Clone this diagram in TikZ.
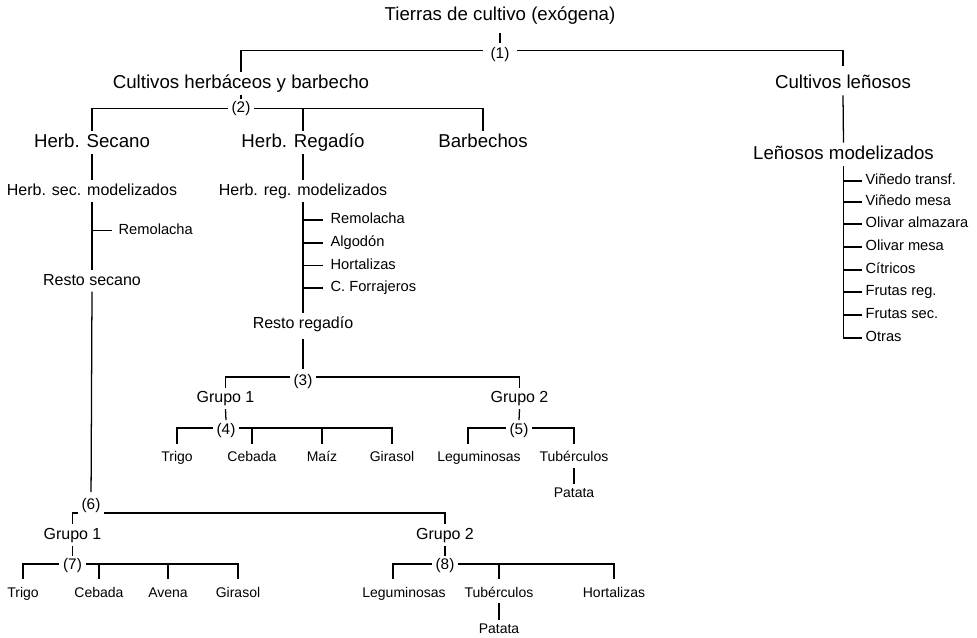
\documentclass[tikz,border=0pt]{standalone}
\usepackage{fontspec}
\setmainfont{Liberation Sans}
\begin{document}
\begin{tikzpicture}[x=0.75pt,y=-0.75pt,line width=0.95pt,
  every node/.style={inner sep=0pt},
  big/.style={font=\fontsize{14}{16}\selectfont,text height=10pt,text depth=2.8pt,inner ysep=2pt},
  mid/.style={font=\fontsize{12}{14}\selectfont,text height=8.6pt,text depth=2.4pt,inner ysep=2pt},
  sml/.style={font=\fontsize{10.5}{12}\selectfont,text height=7.6pt,text depth=2.1pt,inner ysep=2pt},
  lst/.style={font=\fontsize{11}{13}\selectfont,text height=7.9pt,text depth=2.3pt,anchor=west},
  num/.style={font=\fontsize{11.5}{13}\selectfont,text height=8.4pt,text depth=2.4pt,inner xsep=2.6pt},
  leaf/.style={shorten >=3.5pt},
]
\useasboundingbox (0,0) rectangle (977,638);

% ---- top levels
\node[big] (t0) at (500,16) {Tierras de cultivo (exógena)};
\node[num,inner xsep=5.3pt] (n1) at (500,50.7) {\raisebox{-2.5pt}{(1)}};
\node[big] (ch) at (241,83.5) {Cultivos herbáceos y barbecho};
\node[big] (cl) at (843,83.5) {Cultivos leñosos};
\node[num] (n2) at (241,108.5) {(2)};
\node[big] (hs) at (92,142.5) {Herb. Secano};
\node[big] (hr) at (303,142.5) {Herb. Regadío};
\node[big] (hb) at (483,142.5) {Barbechos};
\node[big] (lm) at (843.5,154.5) {Leñosos modelizados};

\draw[shorten <=4pt] (t0.south) -- (n1.north);
\draw (n1.west) -| (ch.north);
\draw[shorten >=4pt] (n1.east) -| (cl.north);
\draw[shorten >=1.2pt] (ch.south) -- (n2.north);
\draw (n2.west) -| (hs.north);
\draw (n2.east) -| (hb.north);
\draw (hr.north |- n2) -- (hr.north);
\draw (cl.south) -- (lm.north);

% ---- Leñosos list
\node[lst] (l1) at (865,181) {Viñedo transf.};
\node[lst] (l2) at (865,202) {Viñedo mesa};
\node[lst] (l3) at (865,224) {Olivar almazara};
\node[lst] (l4) at (865,247) {Olivar mesa};
\node[lst] (l5) at (865,270) {Cítricos};
\node[lst] (l6) at (865,292) {Frutas reg.};
\node[lst] (l7) at (865,315) {Frutas sec.};
\node[lst] (l8) at (865,338) {Otras};
\draw[shorten >=2.2pt] (lm.south) |- (l8.west);
\foreach \k in {1,...,7}{\draw[shorten >=2.2pt] (lm.south |- l\k.west) -- (l\k.west);}

% ---- Secano branch
\node[mid] (hsm) at (92,191) {Herb. sec. modelizados};
\node[lst] (rm0) at (118,230.3) {Remolacha};
\node[mid] (rs) at (92,281) {Resto secano};
\draw (hs.south) -- (hsm.north);
\draw (hsm.south) -- (rs.north);
\draw[shorten >=4.7pt] (hsm.south |- rm0.west) -- (rm0.west);

% ---- Regadio branch
\node[mid] (hrm) at (303,191) {Herb. reg. modelizados};
\node[lst] (r1) at (330,220) {Remolacha};
\node[lst] (r2) at (330,243) {Algodón};
\node[lst] (r3) at (330,265.5) {Hortalizas};
\node[lst] (r4) at (330,288) {C. Forrajeros};
\node[mid] (rr) at (303,324) {Resto regadío};
\draw (hr.south) -- (hrm.north);
\draw (hrm.south) -- (rr.north);
\foreach \k in {1,...,4}{\draw[shorten >=5pt] (hrm.south |- r\k.west) -- (r\k.west);}

% ---- (3) regadio groups
\node[num] (n3) at (303,377) {\raisebox{-3pt}{(3)}};
\node[mid] (g1) at (225.5,398.5) {Grupo 1};
\node[mid] (g2) at (519.5,398.5) {Grupo 2};
\draw[shorten <=3pt] (rr.south) -- (n3.north);
\draw (n3.west) -| (g1.north);
\draw (n3.east) -| (g2.north);

\node[num] (n4) at (226,428) {\raisebox{-1.5pt}{(4)}};
\node[sml] (a1) at (177,458) {Trigo};
\node[sml] (a2) at (252,458) {Cebada};
\node[sml] (a3) at (322,458) {Maíz};
\node[sml] (a4) at (392,458) {Girasol};
\draw (g1.south) -- (n4.north);
\draw[leaf] (n4.west) -| (a1.north);
\draw[leaf] (n4.east) -| (a4.north);
\draw[leaf] (a2.north |- n4) -- (a2.north);
\draw[leaf] (a3.north |- n4) -- (a3.north);

\node[num] (n5) at (519,428) {\raisebox{-1.5pt}{(5)}};
\node[sml] (a5) at (479,458) {Leguminosas};
\node[sml] (a6) at (574,458) {Tubérculos};
\node[sml] (a7) at (574,493.6) {Patata};
\draw (g2.south) -- (n5.north);
\draw[leaf] (n5.west) -| ([xshift=-8.25pt]a5.north);
\draw[leaf] (n5.east) -| (a6.north);
\draw (a6.south) -- (a7.north);

% ---- (6) secano groups
\node[num] (n6) at (91,513) {\raisebox{6pt}{(6)}};
\node[mid] (g3) at (72.5,535) {Grupo 1};
\node[mid] (g4) at (445,535) {Grupo 2};
\draw[shorten >=9.75pt] (rs.south) -- (n6.north);
\draw (n6.west) -| (g3.north);
\draw (n6.east) -| (g4.north);

\node[num] (n7) at (72.5,564) {\raisebox{-1pt}{(7)}};
\node[sml] (b1) at (23,593.6) {Trigo};
\node[sml] (b2) at (99,593.6) {Cebada};
\node[sml] (b3) at (168,593.6) {Avena};
\node[sml] (b4) at (238,593.6) {Girasol};
\draw (g3.south) -- (n7.north);
\draw[leaf] (n7.west) -| (b1.north);
\draw[leaf] (n7.east) -| (b4.north);
\draw[leaf] (b2.north |- n7) -- (b2.north);
\draw[leaf] (b3.north |- n7) -- (b3.north);

\node[num] (n8) at (445,564) {\raisebox{-1pt}{(8)}};
\node[sml] (b5) at (404,593.6) {Leguminosas};
\node[sml] (b6) at (499,593.6) {Tubérculos};
\node[sml] (b7) at (614,593.6) {Hortalizas};
\node[sml] (b8) at (499,629.6) {Patata};
\draw (g4.south) -- (n8.north);
\draw[leaf] (n8.west) -| ([xshift=-8.25pt]b5.north);
\draw[leaf] (n8.east) -| (b7.north);
\draw[leaf] (b6.north |- n8) -- (b6.north);
\draw (b6.south) -- (b8.north);
\end{tikzpicture}
\end{document}
